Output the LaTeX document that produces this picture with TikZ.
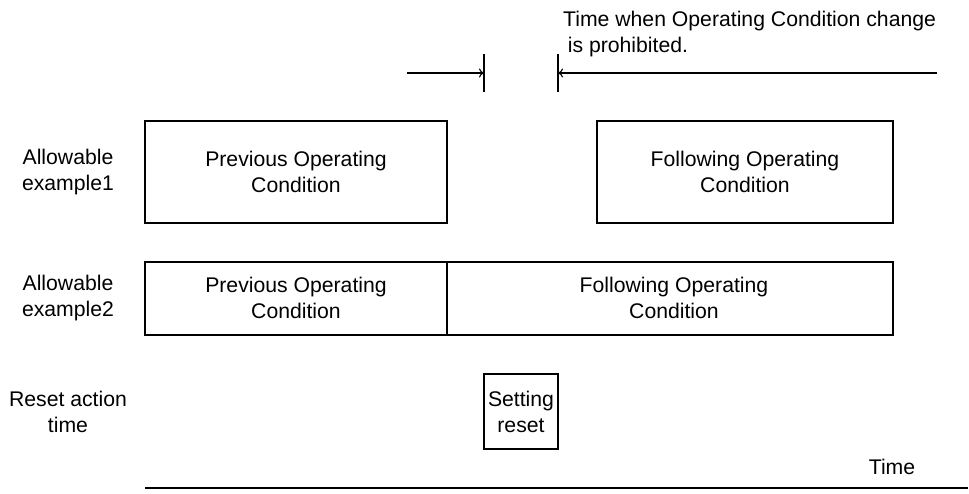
\documentclass[tikz,border=0pt]{standalone}
\usepackage{fontspec}
\setmainfont{Liberation Sans}
\usetikzlibrary{arrows.meta}
\begin{document}
\begin{tikzpicture}[x=1pt,y=-1pt,
  lbl/.style={font=\fontsize{21.2}{26}\selectfont, align=center, inner sep=0pt},
  boxline/.style={draw=black, line width=1.1pt},
  ln/.style={line width=1.1pt},
  arr/.style={line width=1.1pt, -{To[length=5pt,width=9pt]}}]
\useasboundingbox (0,0) rectangle (969,493);
% top annotation
\node[lbl, align=left, anchor=north west] (note) at (563,11) {Time when Operating Condition change\\\hspace{0.22em}is prohibited.};
\coordinate (tl1) at (484,54); \coordinate (tl2) at (484,92);
\coordinate (tr1) at (558,54); \coordinate (tr2) at (558,92);
\draw[ln] (tl1) -- (tl2);
\draw[ln] (tr1) -- (tr2);
\coordinate (as) at (407,73); \coordinate (ae) at (484,73);
\coordinate (bs) at (937,73); \coordinate (be) at (558,73);
\draw[arr] (as) -- (ae);
\draw[arr] (bs) -- (be);
% row labels
\node[lbl] (r1) at (68,172) {Allowable\\example1};
\node[lbl] (r2) at (68,298) {Allowable\\example2};
\node[lbl] (r3) at (68,412) {Reset action\\time};
% row 1
\draw[boxline] (145,121) rectangle (447,223);
\node[lbl] (p1) at (296,172) {Previous Operating\\Condition};
\draw[boxline] (597,121) rectangle (893,223);
\node[lbl] (f1) at (745,172) {Following Operating\\Condition};
% row 2
\draw[boxline] (145,262) rectangle (893,335);
\draw[boxline] (447,262) -- (447,335);
\node[lbl] (p2) at (296,298) {Previous Operating\\Condition};
\node[lbl] (f2) at (674,298) {Following Operating\\Condition};
% reset
\node[boxline, lbl, minimum width=74pt, minimum height=75pt, inner sep=0pt] (sr) at (521,411.5) {Setting\\reset};
% time axis
\node[lbl] (time) at (892,467) {Time};
\coordinate (t0) at (145,488); \coordinate (t1) at (968,488);
\draw[ln] (t0) -- (t1);
\end{tikzpicture}
\end{document}
